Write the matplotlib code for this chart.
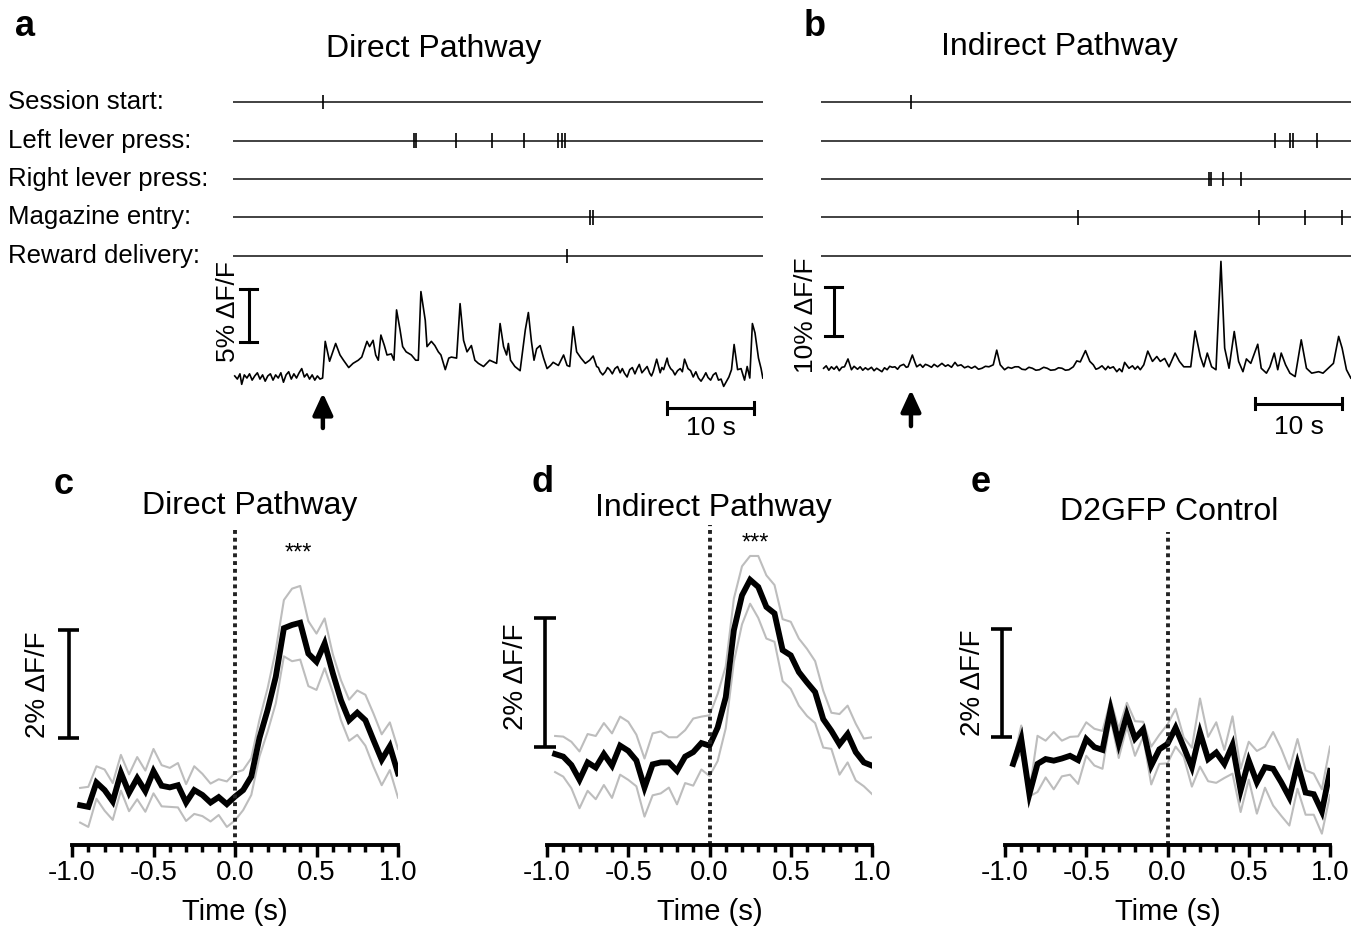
"""Photometry figure: event rasters + raw traces (a, b) and peri-event averages (c-e)."""
import matplotlib
matplotlib.use("Agg")
import matplotlib.pyplot as plt
from matplotlib.ticker import MultipleLocator
from matplotlib.transforms import blended_transform_factory

plt.rcParams['font.family'] = ['Liberation Sans', 'DejaVu Sans']

# ---------------- data ----------------
ROW_NAMES = ["Session start:", "Left lever press:", "Right lever press:",
             "Magazine entry:", "Reward delivery:"]
T_END = 60.92  # s shown in the raw traces

# event times (s)
a_session = [10.33]
a_left = [20.8, 21.0, 25.6, 29.8, 33.4, 37.4, 37.8, 38.2]
a_right = []
a_mag = [41.0, 41.4]
a_reward = [38.4]

b_session = [10.34]
b_left = [52.2, 53.9, 54.2, 57.0]
b_right = [44.6, 44.8, 46.2, 48.3]
b_mag = [29.5, 50.4, 55.6, 59.9]
b_reward = []

# raw trace, direct pathway (s, % dF/F)
a_t = [0.2, 0.5, 0.8, 1.0, 1.3, 1.6, 1.9, 2.2, 2.5, 2.8, 3.1, 3.4, 3.7, 4.0, 4.3,
       4.6, 4.9, 5.2, 5.5, 5.8, 6.1, 6.4, 6.7, 7.0, 7.3, 7.6, 7.9, 8.2, 8.5, 8.8,
       9.1, 9.4, 9.7, 10.0, 10.3, 10.6, 11.1, 11.8, 12.3, 12.7, 13.3, 13.8, 14.4,
       14.8, 15.4, 15.7, 16.1, 16.4, 16.7, 17.0, 17.4, 17.7, 18.2, 18.5, 18.8,
       19.2, 19.5, 19.9, 20.5, 21.0, 21.3, 21.6, 22.1, 22.3, 22.8, 23.2, 23.6,
       23.9, 24.4, 24.8, 25.1, 25.7, 26.1, 26.5, 26.9, 27.4, 27.8, 28.2, 28.8,
       29.5, 30.3, 30.7, 31.1, 31.45, 31.65, 31.9, 32.4, 33.0, 33.2, 33.6, 33.95,
       34.3, 34.6, 34.9, 35.3, 35.7, 36.1, 36.5, 36.8, 37.4, 38.0, 38.4, 38.7,
       39.1, 39.5, 40.0, 40.5, 41.0, 41.4, 41.8, 42.0, 42.2, 42.5, 42.8, 43.05,
       43.3, 43.6, 43.9, 44.2, 44.5, 44.75, 45.0, 45.3, 45.6, 45.9, 46.2, 46.45,
       46.7, 47.0, 47.3, 47.6, 47.9, 48.1, 48.3, 48.7, 49.1, 49.3, 49.5, 49.9,
       50.05, 50.3, 50.55, 50.8, 51.1, 51.4, 51.65, 51.9, 52.3, 52.6, 52.9, 53.2,
       53.5, 53.8, 54.1, 54.35, 54.6, 54.9, 55.2, 55.5, 55.8, 56.1, 56.4, 57.0,
       57.3, 57.6, 58.0, 58.4, 58.8, 59.1, 59.4, 59.7, 60.0, 60.4, 60.7, 60.9]
a_v = [0.1, -0.2, 0.3, -0.7, 0.2, -0.1, 0.3, -0.3, 0.1, 0.4, -0.2, 0.2, -0.4, 0.1,
       0.3, -0.3, 0.2, -0.1, 0.4, -0.5, 0.2, 0.5, -0.2, 0.3, -0.1, 0.4, 0.8, 0.0,
       0.3, -0.2, 0.2, -0.3, 0.1, -0.2, -0.1, 3.4, 1.5, 3.2, 2.1, 1.6, 0.9, 1.3,
       1.6, 1.9, 3.4, 2.9, 3.5, 2.1, 1.6, 4.0, 3.0, 2.1, 2.2, 1.6, 6.4, 4.5, 2.9,
       2.4, 2.1, 1.6, 1.6, 8.15, 5.4, 2.9, 3.4, 3.0, 2.4, 2.1, 0.7, 1.8, 1.9, 1.8,
       7.0, 3.5, 2.4, 3.0, 1.6, 1.3, 1.0, 1.6, 1.3, 5.1, 2.9, 2.1, 3.2, 1.6, 1.0,
       0.6, 1.9, 4.5, 6.15, 3.4, 1.6, 2.7, 3.0, 1.8, 0.8, 1.1, 1.4, 1.1, 2.1, 1.1,
       1.0, 4.8, 2.4, 1.8, 1.3, 1.6, 2.0, 1.0, 0.9, 0.5, 0.2, 0.5, 0.9,
       0.7, 0.3, 0.8, 1.0, 0.4, 0.8, 0.35, 0.0, 0.7, 0.9, 0.3, 0.8,
       1.2, 0.4, 0.7, 1.0, 0.35, 0.1, 0.5, 1.7, 0.4, 0.9, 0.7, 1.8,
       1.2, 0.8, 0.6, 0.2, 0.6, 0.8, 0.5, 1.7, 0.8, 0.6, 0.0, 0.5,
       -0.1, -0.4, 0.0, 0.4, -0.05, -0.3, 0.2, 0.4, -0.3, -0.2, -0.9, 0.0,
       0.7, 3.1, 0.7, 0.8, -0.3, 1.0, -0.1, 5.1, 4.2, 1.8, 0.8, -0.1]

# raw trace, indirect pathway (s, % dF/F)
b_t = [0.3, 0.6, 0.9, 1.2, 1.5, 1.8, 2.1, 2.4, 2.7, 3.1, 3.5, 3.8, 4.2, 4.5, 4.8,
       5.1, 5.4, 5.8, 6.1, 6.4, 7.0, 7.3, 7.6, 7.9, 8.2, 8.5, 8.8, 9.1, 9.5, 9.8,
       10.0, 10.5, 10.8, 11.0, 11.4, 11.7, 12.0, 12.3, 12.7, 13.0, 13.4, 13.9,
       14.3, 14.6, 15.0, 15.4, 15.7, 16.1, 16.5, 16.9, 17.3, 17.7, 18.1, 18.5,
       18.9, 19.3, 19.8, 20.2, 20.6, 21.1, 21.5, 21.9, 22.3, 22.7, 23.1, 23.5,
       23.9, 24.3, 24.7, 25.1, 25.6, 26.0, 26.4, 26.9, 27.3, 27.7, 28.1, 28.5,
       29.0, 29.4, 29.8, 30.4, 30.9, 31.3, 31.6, 31.9, 32.3, 32.7, 33.0, 33.2,
       33.6, 34.0, 34.3, 34.6, 34.9, 35.4, 35.8, 36.1, 36.4, 36.7, 37.1,
       37.56, 38.1, 38.6, 39.0, 39.5, 40.0, 40.7, 41.2,
       41.7, 42.5, 43.0, 43.6, 44.0, 44.4, 44.9, 45.4, 45.97, 46.4, 46.9, 47.5,
       48.0, 48.5, 48.9, 49.4, 50.2, 50.6, 51.2, 51.6, 52.1, 52.5, 52.9, 53.4,
       53.9, 54.5, 55.2, 55.8, 56.4, 57.2, 57.7, 58.3, 58.9, 59.5, 59.9, 60.4,
       60.9]
b_v = [0.0, 0.5, -0.4, 0.3, -0.2, 0.4, -0.5, 0.2, 0.3, 1.9, -0.3, 0.4, -0.2, 0.3,
       -0.4, 0.1, -0.3, 0.2, -0.5, 0.0, -0.7, 0.1, -0.3, 0.4, 0.2, 0.3, -0.2, 0.5,
       0.8, 0.2, 0.3, 2.7, 1.2, 0.3, 0.8, 0.2, 0.8, 0.6, 0.2, 0.8, 0.3, 1.0, 0.4,
       0.7, 0.2, 1.2, 0.5, 0.7, 0.1, 0.4, 0.0, 0.4, -0.2, 0.0, 0.4, 0.3, 0.7, 3.7,
       0.7, -0.3, 0.2, 0.0, 0.3, 0.3, -0.2, -0.3, 0.2, 0.0, -0.4, -0.3, 0.2, 0.0,
       -0.4, -0.3, 0.1, 0.0, -0.4, -0.3, 0.3, 1.5, 1.3, 3.6, 1.4, 0.7, -0.2, 0.0,
       0.5, -0.3, 0.4, 0.0, 0.3, -0.7, -0.1, -0.7, 1.2, 0.0, 0.5, -0.2, 0.4,
       -0.3, 0.7, 3.5, 1.4, 2.4, 1.4, 2.0, 0.3, 3.1,
       1.4, 0.3, 0.3, 7.6, 2.4, 0.3, 3.1, 0.3, -0.3, 21.8, 4.1, 0.0, 7.5, 1.4, -0.7,
       1.9, 1.0, 4.9, 0.0, -1.0, 0.3, 3.1, -0.3, 3.1, 0.7, -1.0, -1.7, 5.8, 0.0,
       -1.0, -0.7, -1.0, 0.0, 1.0, 6.5, 4.1, -0.3, -2.0]

# peri-event averages, bins centred every 0.05 s
t_bins = [-0.95, -0.90, -0.85, -0.80, -0.75, -0.70, -0.65, -0.60, -0.55, -0.50,
          -0.45, -0.40, -0.35, -0.30, -0.25, -0.20, -0.15, -0.10, -0.05, 0.00,
          0.05, 0.10, 0.15, 0.20, 0.25, 0.30, 0.35, 0.40, 0.45, 0.50,
          0.55, 0.60, 0.65, 0.70, 0.75, 0.80, 0.85, 0.90, 0.95, 1.00]

c_mean = [-0.22, -0.25, 0.20, 0.06, -0.15, 0.38, 0.01, 0.28, 0.04, 0.41,
          0.14, 0.11, 0.15, -0.17, 0.06, -0.03, -0.17, -0.07, -0.20, -0.06,
          0.06, 0.31, 1.02, 1.54, 2.15, 3.05, 3.11, 3.15, 2.58, 2.43,
          2.77, 2.22, 1.72, 1.35, 1.49, 1.35, 0.98, 0.62, 0.87, 0.37]
c_sem = [0.32, 0.37, 0.30, 0.38, 0.34, 0.33, 0.34, 0.39, 0.38, 0.41,
         0.38, 0.36, 0.41, 0.34, 0.44, 0.39, 0.35, 0.33, 0.42, 0.44,
         0.37, 0.34, 0.34, 0.40, 0.49, 0.52, 0.67, 0.68, 0.60, 0.52,
         0.46, 0.35, 0.37, 0.38, 0.41, 0.47, 0.49, 0.47, 0.44, 0.45]

d_mean = [0.00, -0.04, -0.17, -0.40, -0.13, -0.21, 0.00, -0.18, 0.13, 0.05,
          -0.10, -0.52, -0.16, -0.13, -0.13, -0.26, -0.04, 0.03, 0.17, 0.13,
          0.41, 0.88, 1.92, 2.46, 2.70, 2.59, 2.28, 2.18, 1.61, 1.53,
          1.27, 1.11, 0.96, 0.54, 0.36, 0.15, 0.31, 0.03, -0.13, -0.18]
d_sem = [0.28, 0.31, 0.36, 0.44, 0.44, 0.49, 0.48, 0.50, 0.45, 0.45,
         0.40, 0.45, 0.48, 0.48, 0.39, 0.52, 0.41, 0.52, 0.41, 0.47,
         0.52, 0.48, 0.49, 0.45, 0.37, 0.48, 0.49, 0.44, 0.48, 0.52,
         0.52, 0.52, 0.48, 0.44, 0.28, 0.47, 0.44, 0.44, 0.37, 0.44]

e_mean = [-0.09, 0.37, -0.65, -0.09, 0.00, -0.03, 0.01, 0.06, -0.02, 0.37,
          0.22, 0.17, 0.92, 0.29, 0.82, 0.38, 0.55, -0.12, 0.18, 0.28,
          0.58, 0.22, -0.15, 0.49, 0.00, 0.12, -0.09, 0.26, -0.58, -0.03,
          -0.43, -0.15, -0.18, -0.43, -0.71, -0.09, -0.62, -0.65, -0.97, -0.22]
e_sem = [0.03, 0.25, 0.04, 0.52, 0.34, 0.53, 0.33, 0.35, 0.44, 0.31,
         0.34, 0.35, 0.17, 0.27, 0.22, 0.32, 0.14, 0.35, 0.27, 0.36,
         0.35, 0.18, 0.36, 0.63, 0.41, 0.56, 0.26, 0.53, 0.40, 0.35,
         0.58, 0.38, 0.68, 0.62, 0.52, 0.46, 0.41, 0.38, 0.41, 0.45]

# ---------------- figure ----------------
W, H = 1366, 927
fig = plt.figure(figsize=(W / 100, H / 100), dpi=100)


def px_axes(x0, y0, x1, y1):
    """axes placed by pixel box (y measured from the top)"""
    ax = fig.add_axes([x0 / W, 1 - y1 / H, (x1 - x0) / W, (y1 - y0) / H])
    ax.patch.set_alpha(0)
    return ax


def fig_text(x, y, s, **kw):
    fig.text(x / W, 1 - y / H, s, **kw)


def top_panel(x0, events, tr_t, tr_v, vlim, bar, bar_label, lab_xy, arrow, tbar,
              cap, names):
    rax = px_axes(x0, 83, x0 + 530, 275)
    rax.set_xlim(0, T_END)
    rax.set_ylim(4.5, -0.5)
    rax.axis("off")
    rax.hlines(range(5), 0, T_END, color="#333333", lw=1.3)
    for i, ev in enumerate(events):
        if ev:
            rax.eventplot([ev], lineoffsets=i, linelengths=0.38, colors="k",
                          linewidths=1.2)
    if names:
        tr = blended_transform_factory(fig.transFigure, rax.transData)
        for i, n in enumerate(ROW_NAMES):
            rax.text(8 / W, i, n, transform=tr, ha="left", va="center",
                     fontsize=18.5)

    tax = px_axes(x0, 255, x0 + 530, 445)
    tax.set_xlim(0, T_END)
    tax.set_ylim(*vlim)
    tax.axis("off")
    tax.plot(tr_t, tr_v, color="k", lw=1.2)
    # amplitude scale bar
    bx, lo, hi = bar
    tax.plot([bx, bx], [lo, hi], color="k", lw=2.2)
    tax.plot([bx - 1, bx + 1], [lo, lo], color="k", lw=2.2)
    tax.plot([bx - 1, bx + 1], [hi, hi], color="k", lw=2.2)
    tax.text(lab_xy[0], lab_xy[1], bar_label, rotation=90, ha="center",
             va="center", fontsize=19)
    # session-start arrow
    at, tip, tail = arrow
    tax.annotate("", xy=(at, tip), xytext=(at, tail),
                 arrowprops=dict(arrowstyle="-|>,head_width=0.3,head_length=0.65",
                                 lw=3.2, color="k", shrinkA=0, shrinkB=0,
                                 mutation_scale=20), annotation_clip=False)
    # time scale bar
    t0, t1, ty, txt_y = tbar
    tax.plot([t0, t1], [ty, ty], color="k", lw=2.2)
    tax.plot([t0, t0], [ty - cap, ty + cap], color="k", lw=2.2)
    tax.plot([t1, t1], [ty - cap, ty + cap], color="k", lw=2.2)
    tax.text((t0 + t1) / 2, txt_y, "10 s", ha="center", va="center", fontsize=19)


top_panel(233, [a_session, a_left, a_right, a_mag, a_reward], a_t, a_v,
          (-6.49, 11.64), (1.8, 3.35, 8.35), "5% ΔF/F", (-0.6, 6.2),
          (10.33, -1.53, -4.87), (49.9, 59.9, -2.96, -4.9), 0.57, True)
top_panel(821, [b_session, b_left, b_right, b_mag, b_reward], b_t, b_v,
          (-15.65, 23.1), (1.45, 6.65, 16.65), "10% ΔF/F", (-1.7, 10.9),
          (10.34, -4.4, -11.8), (49.9, 59.9, -7.2, -12.0), 1.2, False)

fig_text(434, 49, "Direct Pathway", ha="center", va="center", fontsize=23)
fig_text(1059, 47, "Indirect Pathway", ha="center", va="center", fontsize=23)


def bottom_panel(x0, x1, top, vlim, mean, sem, bar, lab_xy, stars):
    ax = px_axes(x0, top, x1, 845)
    ax.set_xlim(-1, 1)
    ax.set_ylim(*vlim)
    upper = [m + s for m, s in zip(mean, sem)]
    lower = [m - s for m, s in zip(mean, sem)]
    ax.plot(t_bins, upper, color="#bdbdbd", lw=1.5)
    ax.plot(t_bins, lower, color="#bdbdbd", lw=1.5)
    ax.plot(t_bins, mean, color="k", lw=4.2, solid_joinstyle="miter")
    ax.axvline(0, color="#222222", lw=2.8, ls=(0, (1, 1)))
    for s in ("left", "top", "right"):
        ax.spines[s].set_visible(False)
    ax.spines["bottom"].set_linewidth(2.8)
    ax.set_yticks([])
    ax.set_xticks([-1, -0.5, 0, 0.5, 1])
    ax.set_xticklabels(["-1.0", "-0.5", "0.0", "0.5", "1.0"])
    ax.xaxis.set_minor_locator(MultipleLocator(0.1))
    ax.tick_params(axis="x", which="major", length=8.6, width=2.5, labelsize=20,
                   pad=2)
    ax.tick_params(axis="x", which="minor", length=5, width=2.5)
    ax.set_xlabel("Time (s)", fontsize=21, labelpad=9)
    bx, lo, hi = bar
    kw = dict(color="k", lw=2.6, clip_on=False, solid_capstyle="butt")
    ax.plot([bx, bx], [lo, hi], **kw)
    ax.plot([bx - 0.065, bx + 0.065], [lo, lo], **kw)
    ax.plot([bx - 0.065, bx + 0.065], [hi, hi], **kw)
    ax.text(lab_xy[0], lab_xy[1], "2% ΔF/F", rotation=90, ha="center",
            va="center", fontsize=20, clip_on=False)
    if stars:
        ax.text(stars[0], stars[1], "***", ha="center", va="center", fontsize=17)
    return ax


bottom_panel(72, 398, 528, (-0.954, 4.9), c_mean, c_sem, (-1.02, 1.015, 3.015),
             (-1.21, 2.0), (0.387, 4.42))
bottom_panel(547, 872, 525, (-1.41, 3.55), d_mean, d_sem, (-1.012, 0.114, 2.114),
             (-1.19, 1.2), (0.28, 3.26))
bottom_panel(1005, 1330, 532, (-1.59, 4.2), e_mean, e_sem, (-1.02, 0.4, 2.4),
             (-1.197, 1.42), None)

fig_text(250, 506, "Direct Pathway", ha="center", va="center", fontsize=23)
fig_text(713, 508, "Indirect Pathway", ha="center", va="center", fontsize=23)
fig_text(1169, 512, "D2GFP Control", ha="center", va="center", fontsize=23)

for letter, x, y in (("a", 25, 27), ("b", 815, 27), ("c", 64, 484),
                     ("d", 543, 482), ("e", 981, 482)):
    fig_text(x, y, letter, ha="center", va="center", fontsize=26,
             fontweight="bold")

fig.savefig("out.png", dpi=100)
